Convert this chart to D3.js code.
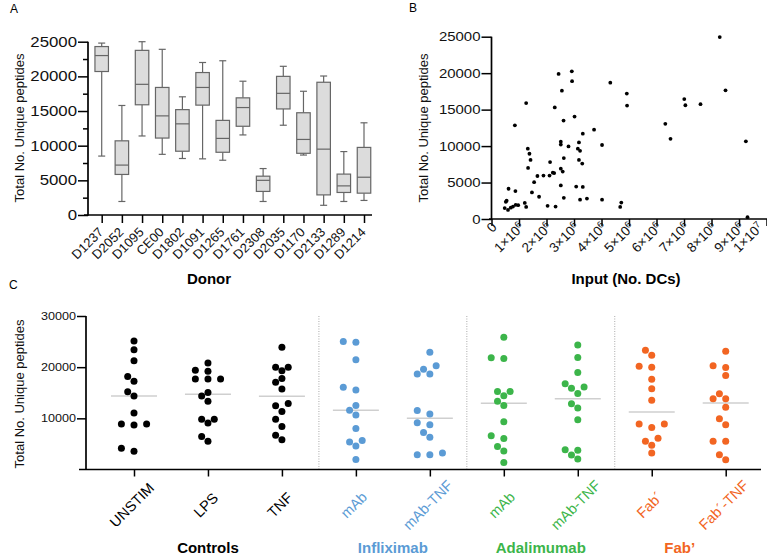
<!DOCTYPE html>
<html><head><meta charset="utf-8">
<script src="https://cdn.jsdelivr.net/npm/d3@7"></script>
<style>
html,body{margin:0;padding:0;background:#fff;}
svg{display:block;font-family:"Liberation Sans",Arial,Helvetica,sans-serif;}
</style></head><body>
<svg id="chart" width="767" height="555"></svg>
<script>
// ---------- Panel A data (box plots per donor) ----------
const donors = ["D1237","D2052","D1095","CE00","D1802","D1091","D1265","D1761","D2308","D2035","D1170","D2133","D1289","D1214"];
const whiskerLow  = [8500, 1950, 11400, 8750, 8150, 8100, 7900, 11550, 1950, 12950, 8650, 1400, 1950, 2100];
const quartile1   = [20700, 5850, 15900, 11100, 9200, 15850, 9050, 12800, 3400, 15300, 8900, 2900, 3250, 3150];
const medians     = [23000, 7200, 18850, 14300, 13150, 18400, 11050, 15500, 5000, 17550, 10900, 9500, 4200, 5450];
const quartile3   = [24300, 10700, 23750, 18400, 15200, 20550, 13650, 16900, 5600, 20000, 14750, 19150, 5900, 9750];
const whiskerHigh = [24800, 15800, 25000, 23900, 17050, 22000, 22250, 19300, 6700, 21450, 17850, 20050, 9150, 13300];
const aYTicks = [0, 5000, 10000, 15000, 20000, 25000];
const aYMinor = [2500, 7500, 12500, 17500, 22500];

// ---------- Panel B data (scatter) ----------
const inputMillions = [0.48,0.52,0.55,0.60,0.62,0.70,0.78,0.85,0.87,0.88,0.97,1.21,1.26,1.26,1.32,1.38,1.42,1.33,1.47,1.55,1.67,1.73,1.89,2.04,2.11,2.13,2.23,2.28,2.33,2.30,2.44,2.52,2.52,2.52,2.56,2.52,2.59,2.62,2.63,2.63,2.80,2.92,2.93,3.02,3.08,3.14,3.18,3.18,3.22,3.22,3.30,3.32,3.32,3.47,3.73,4.02,4.02,4.32,4.68,4.72,4.92,4.93,6.32,6.51,7.01,7.05,7.60,8.30,8.51,9.25,9.31];
const uniquePeptidesB = [1500,2350,2500,1250,4150,1550,1700,12850,3830,1950,1900,2200,1650,15900,9650,8950,8100,7000,3650,5050,5900,3050,5950,1800,5950,7800,6350,6300,1700,15300,19900,10600,10200,6900,17600,4600,6500,13500,8350,2900,9950,20250,18900,14050,4450,9650,10500,8100,9350,2650,7600,11700,4400,2800,12250,10150,2650,18700,1650,2250,17200,15550,13050,11000,16450,15600,15750,24950,17650,10650,250];
const bYTicks = [0, 5000, 10000, 15000, 20000, 25000];
const bXTicks = [0,1e6,2e6,3e6,4e6,5e6,6e6,7e6,8e6,9e6,1e7];
const bXTickLabels = ["0","1×10^6","2×10^6","3×10^6","4×10^6","5×10^6","6×10^6","7×10^6","8×10^6","9×10^6","1×10^7"];

// ---------- Panel C data (column scatter) ----------
const cCategories = ["UNSTIM","LPS","TNF","mAb","mAb-TNF","mAb","mAb-TNF","Fab´","Fab´-TNF"];
const cCategoryGroup = [0,0,0,1,1,2,2,3,3];
const groupNames = ["Controls","Infliximab","Adalimumab","Fab’"];
const groupColors = ["#000000","#5b9bd5","#3cb54a","#f26522"];
const unstim   = [25135,23425,21253,18160,17240,15200,14344,11054,8883,8883,8686,3553,4145];
const lps      = [20793,19213,19411,17700,17700,17700,14344,15068,13357,9804,9804,9080,6448,5527];
const tnf      = [23885,19279,20003,20003,17042,17766,15726,12436,12897,11318,9804,8422,6712,5790];
const inflixMab    = [24872,25004,21451,15529,16056,12502,11581,10660,8028,5659,4606,5396,1974];
const inflixMabTnf = [22898,19608,20266,18687,18687,11515,10857,9146,8751,7238,6317,2895,3224,2895];
const adaMab       = [25859,21714,21846,14410,15266,15266,12502,13357,9344,6054,6580,4474,3619,1382];
const adaMabTnf    = [24346,21911,18950,16779,16121,15858,14871,12831,12041,9738,3882,3751,2829,2040];
const fabMab       = [23293,22306,20003,20200,17634,15792,13555,8883,8225,8883,6119,4737,5527,3224];
const fabMabTnf    = [23096,19937,20266,18358,13818,13818,14805,12173,9936,8751,5527,5527,1908,2895];
const cSeries = [unstim,lps,tnf,inflixMab,inflixMabTnf,adaMab,adaMabTnf,fabMab,fabMabTnf];
const cYTicks = [10000, 20000, 30000];

const svg = d3.select("#chart");
const AX = "#000";
const plain = d3.format("d");

function stretch(sel, f){ sel.each(function(){ const l=this.getComputedTextLength(); d3.select(this).attr("textLength", l*f).attr("lengthAdjust","spacingAndGlyphs"); }); }

// ================= Panel A =================
const gA = svg.append("g");
const xA = d3.scalePoint().domain(donors).range([101.7, 364]);
const yA = d3.scaleLinear().domain([0, 25000]).range([215, 41.7]);
gA.append("text").attr("x",10).attr("y",13).attr("font-size",12).text("A");

const yAxA = gA.append("g").attr("transform","translate(88,0)")
  .call(d3.axisLeft(yA).tickValues(aYTicks).tickFormat(plain).tickSize(10).tickSizeOuter(0).tickPadding(1));
yAxA.select(".domain").remove();
yAxA.selectAll("line").attr("stroke",AX).attr("stroke-width",1.5);
yAxA.selectAll("text").attr("font-size",14).attr("fill","#111").call(stretch,1.2);
const yAxAm = gA.append("g").attr("transform","translate(88,0)")
  .call(d3.axisLeft(yA).tickValues(aYMinor).tickSize(5).tickFormat(""));
yAxAm.select(".domain").remove();
yAxAm.selectAll("line").attr("stroke",AX).attr("stroke-width",1.5);
gA.append("line").attr("x1",88).attr("x2",88).attr("y1",yA(25000)).attr("y2",215.7).attr("stroke",AX).attr("stroke-width",1.7);

const xAxA = gA.append("g").attr("transform","translate(0,215)")
  .call(d3.axisBottom(xA).tickSize(8).tickSizeOuter(0));
xAxA.select(".domain").remove();
xAxA.selectAll("line").attr("stroke",AX).attr("stroke-width",1.5);
xAxA.selectAll("text").attr("x",0).attr("y",0).attr("dy",0).attr("font-size",13).attr("fill","#111")
  .attr("text-anchor","end").attr("transform","translate(2,18) rotate(-45)");
gA.append("line").attr("x1",84).attr("x2",372).attr("y1",215).attr("y2",215).attr("stroke",AX).attr("stroke-width",1.7);

const boxW = 13.5, capW = 7;
const boxG = gA.append("g").attr("stroke","#666").attr("stroke-width",1.2);
donors.forEach((d,i)=>{
  const cx = xA(d);
  boxG.append("line").attr("x1",cx).attr("x2",cx).attr("y1",yA(whiskerHigh[i])).attr("y2",yA(quartile3[i]));
  boxG.append("line").attr("x1",cx).attr("x2",cx).attr("y1",yA(quartile1[i])).attr("y2",yA(whiskerLow[i]));
  boxG.append("line").attr("x1",cx-capW/2).attr("x2",cx+capW/2).attr("y1",yA(whiskerHigh[i])).attr("y2",yA(whiskerHigh[i]));
  boxG.append("line").attr("x1",cx-capW/2).attr("x2",cx+capW/2).attr("y1",yA(whiskerLow[i])).attr("y2",yA(whiskerLow[i]));
  boxG.append("rect").attr("x",cx-boxW/2).attr("width",boxW).attr("y",yA(quartile3[i])).attr("height",yA(quartile1[i])-yA(quartile3[i])).attr("fill","#dcdcdc");
  boxG.append("line").attr("x1",cx-boxW/2).attr("x2",cx+boxW/2).attr("y1",yA(medians[i])).attr("y2",yA(medians[i]));
});
gA.append("text").attr("transform","translate(24,128) rotate(-90)").attr("text-anchor","middle").attr("font-size",13).attr("fill","#111").text("Total No. Unique peptides");
gA.append("text").attr("x",209).attr("y",284).attr("text-anchor","middle").attr("font-size",15).attr("font-weight","bold").text("Donor");

// ================= Panel B =================
const gB = svg.append("g");
const xB = d3.scaleLinear().domain([0, 1e7]).range([491.5, 766.5]);
const yB = d3.scaleLinear().domain([0, 25000]).range([219, 36.7]);
gB.append("text").attr("x",409).attr("y",12).attr("font-size",12).text("B");
const yAxB = gB.append("g").attr("transform","translate(491.5,0)")
  .call(d3.axisLeft(yB).tickValues(bYTicks).tickFormat(plain).tickSize(10).tickSizeOuter(0).tickPadding(1));
yAxB.select(".domain").remove();
yAxB.selectAll("line").attr("stroke",AX).attr("stroke-width",1.5);
yAxB.selectAll("text").attr("font-size",13).attr("fill","#111").call(stretch,1.15);
gB.append("line").attr("x1",491.5).attr("x2",491.5).attr("y1",yB(25000)).attr("y2",219.7).attr("stroke",AX).attr("stroke-width",1.7);
const xAxB = gB.append("g").attr("transform","translate(0,219)")
  .call(d3.axisBottom(xB).tickValues(bXTicks).tickSize(7).tickSizeOuter(0).tickFormat(""));
xAxB.select(".domain").remove();
xAxB.selectAll("line").attr("stroke",AX).attr("stroke-width",1.5);
gB.append("line").attr("x1",489).attr("x2",767).attr("y1",219).attr("y2",219).attr("stroke",AX).attr("stroke-width",1.7);
bXTicks.forEach((v,i)=>{
  const parts = bXTickLabels[i].split("^");
  const ax = Math.min(xB(v)+6, 764);
  const t = gB.append("text").attr("text-anchor","end").attr("font-size",13.5).attr("fill","#111")
    .attr("transform",`translate(${ax},228) rotate(-45)`);
  t.append("tspan").text(parts[0]);
  if(parts[1]) t.append("tspan").attr("dy","-0.45em").attr("font-size",9.5).text(parts[1]);
});
gB.append("g").selectAll("circle").data(inputMillions).join("circle")
  .attr("cx",(d)=>xB(d*1e6)).attr("cy",(d,i)=>yB(uniquePeptidesB[i])).attr("r",1.9).attr("fill","#000");
gB.append("text").attr("transform","translate(428,128) rotate(-90)").attr("text-anchor","middle").attr("font-size",13).attr("fill","#111").text("Total No. Unique peptides");
gB.append("text").attr("x",626).attr("y",284).attr("text-anchor","middle").attr("font-size",15).attr("font-weight","bold").text("Input (No. DCs)");

// ================= Panel C =================
const gC = svg.append("g");
const xC = d3.scalePoint().domain(d3.range(cCategories.length)).range([134, 725.7]);
const yC = d3.scaleLinear().domain([0, 30000]).range([469.5, 316]);
gC.append("text").attr("x",9).attr("y",289).attr("font-size",12).text("C");

const dividerX = [];
for(let i=1;i<cCategories.length;i++){ if(cCategoryGroup[i]!==cCategoryGroup[i-1]) dividerX.push((xC(i-1)+xC(i))/2); }
gC.selectAll(".div").data(dividerX).join("line").attr("x1",d=>d).attr("x2",d=>d)
  .attr("y1",yC(30000)).attr("y2",469).attr("stroke","#aaa").attr("stroke-width",1).attr("stroke-dasharray","1,1.5");

const yAxC = gC.append("g").attr("transform","translate(86,0)")
  .call(d3.axisLeft(yC).tickValues(cYTicks).tickFormat(plain).tickSize(9).tickSizeOuter(0).tickPadding(1));
yAxC.select(".domain").remove();
yAxC.selectAll("line").attr("stroke",AX).attr("stroke-width",1.5);
yAxC.selectAll("text").attr("font-size",10.5).attr("fill","#111").call(stretch,1.2);
gC.append("line").attr("x1",86).attr("x2",86).attr("y1",yC(30000)).attr("y2",469.5).attr("stroke",AX).attr("stroke-width",1.7);
const xAxC = gC.append("g").attr("transform","translate(0,469.5)")
  .call(d3.axisBottom(xC).tickSize(7).tickSizeOuter(0).tickFormat(i=>cCategories[i]));
xAxC.select(".domain").remove();
xAxC.selectAll("line").attr("stroke",AX).attr("stroke-width",1.5);
xAxC.selectAll("text").attr("x",0).attr("y",0).attr("dy",0).attr("font-size",14.5)
  .attr("fill",i=>groupColors[cCategoryGroup[i]])
  .attr("text-anchor","middle").attr("transform","translate(1,39) rotate(-45)");
gC.append("line").attr("x1",79).attr("x2",761).attr("y1",469.5).attr("y2",469.5).attr("stroke",AX).attr("stroke-width",1.7);

function swarmOffsets(vals, y, step, minDist){
  const order = d3.range(vals.length).sort((a,b)=>vals[a]-vals[b]);
  const placed = [], off = new Array(vals.length);
  const cands = [0]; for(let k=1;k<=6;k++){ cands.push(-k*step, k*step); }
  for(const i of order){
    const yi = y(vals[i]);
    for(const c of cands){
      if(placed.every(p=>Math.hypot(p.x-c,p.y-yi)>=minDist)){ off[i]=c; placed.push({x:c,y:yi}); break; }
    }
  }
  return off;
}
cSeries.forEach((vals,ci)=>{
  const col = groupColors[cCategoryGroup[ci]];
  const med = d3.median(vals);
  gC.append("line").attr("x1",xC(ci)-23).attr("x2",xC(ci)+23).attr("y1",yC(med)).attr("y2",yC(med))
    .attr("stroke","#cfcfcf").attr("stroke-width",1.5);
  const off = swarmOffsets(vals, yC, 6.3, 7.3);
  gC.append("g").selectAll("circle").data(vals).join("circle")
    .attr("cx",(d,i)=>xC(ci)+off[i]).attr("cy",d=>yC(d)).attr("r",3.5).attr("fill",col);
});
gC.append("text").attr("transform","translate(24,394) rotate(-90)").attr("text-anchor","middle").attr("font-size",13).attr("fill","#111").text("Total No. Unique peptides");
const groupLabelShift = [0,0,0,-9];
groupNames.forEach((g,gi)=>{
  const idx = d3.range(cCategories.length).filter(i=>cCategoryGroup[i]===gi);
  const cx = d3.mean(idx, i=>xC(i)) + groupLabelShift[gi];
  gC.append("text").attr("x",cx).attr("y",553).attr("text-anchor","middle").attr("font-size",15)
    .attr("font-weight","bold").attr("fill",groupColors[gi]).text(g);
});
</script>
</body></html>
